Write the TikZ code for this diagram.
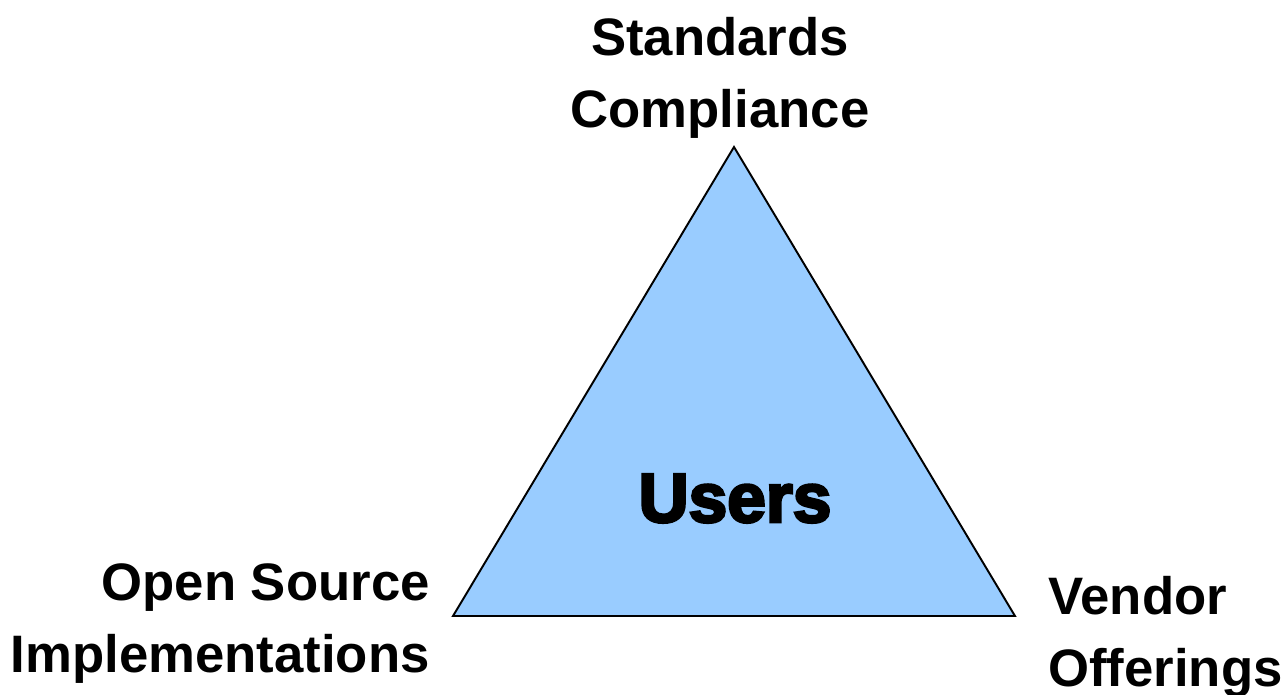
\documentclass[tikz,border=0pt]{standalone}
\usepackage{fontspec}
\setmainfont{Liberation Sans}
\newfontfamily\usersfont[FakeBold=4]{Liberation Sans}
\usetikzlibrary{positioning}
\definecolor{usersblue}{RGB}{153,204,255}

\begin{document}
\begin{tikzpicture}[x=0.02cm, y=-0.02cm,
    cornertext/.style={font=\bfseries\fontsize{30}{41.5}\selectfont, inner sep=0pt},
    usersface/.style={font=\usersfont\bfseries\fontsize{39.5}{45}\selectfont, inner sep=0pt}]
   \useasboundingbox (0,0) rectangle (1286,695);

   \coordinate (apex)  at (734,147);
   \coordinate (left)  at (453,616);
   \coordinate (right) at (1015,616);
   \draw[fill=usersblue, line width=1.1pt, line join=miter] (left) -- (apex) -- (right) -- cycle;

   \node[usersface, anchor=base] (users) at (735,522) {Users};

   % base anchor sits on the last line
   \node[cornertext, align=center, anchor=base] (standards) at (720,128) {Standards\\Compliance};
   \node[cornertext, align=right, anchor=base east] (opensource) at (430,673) {Open Source\\Implementations};
   \node[cornertext, align=left, anchor=base west] (vendor) at (1048,687) {Vendor\\Offerings};
\end{tikzpicture}
\end{document}
